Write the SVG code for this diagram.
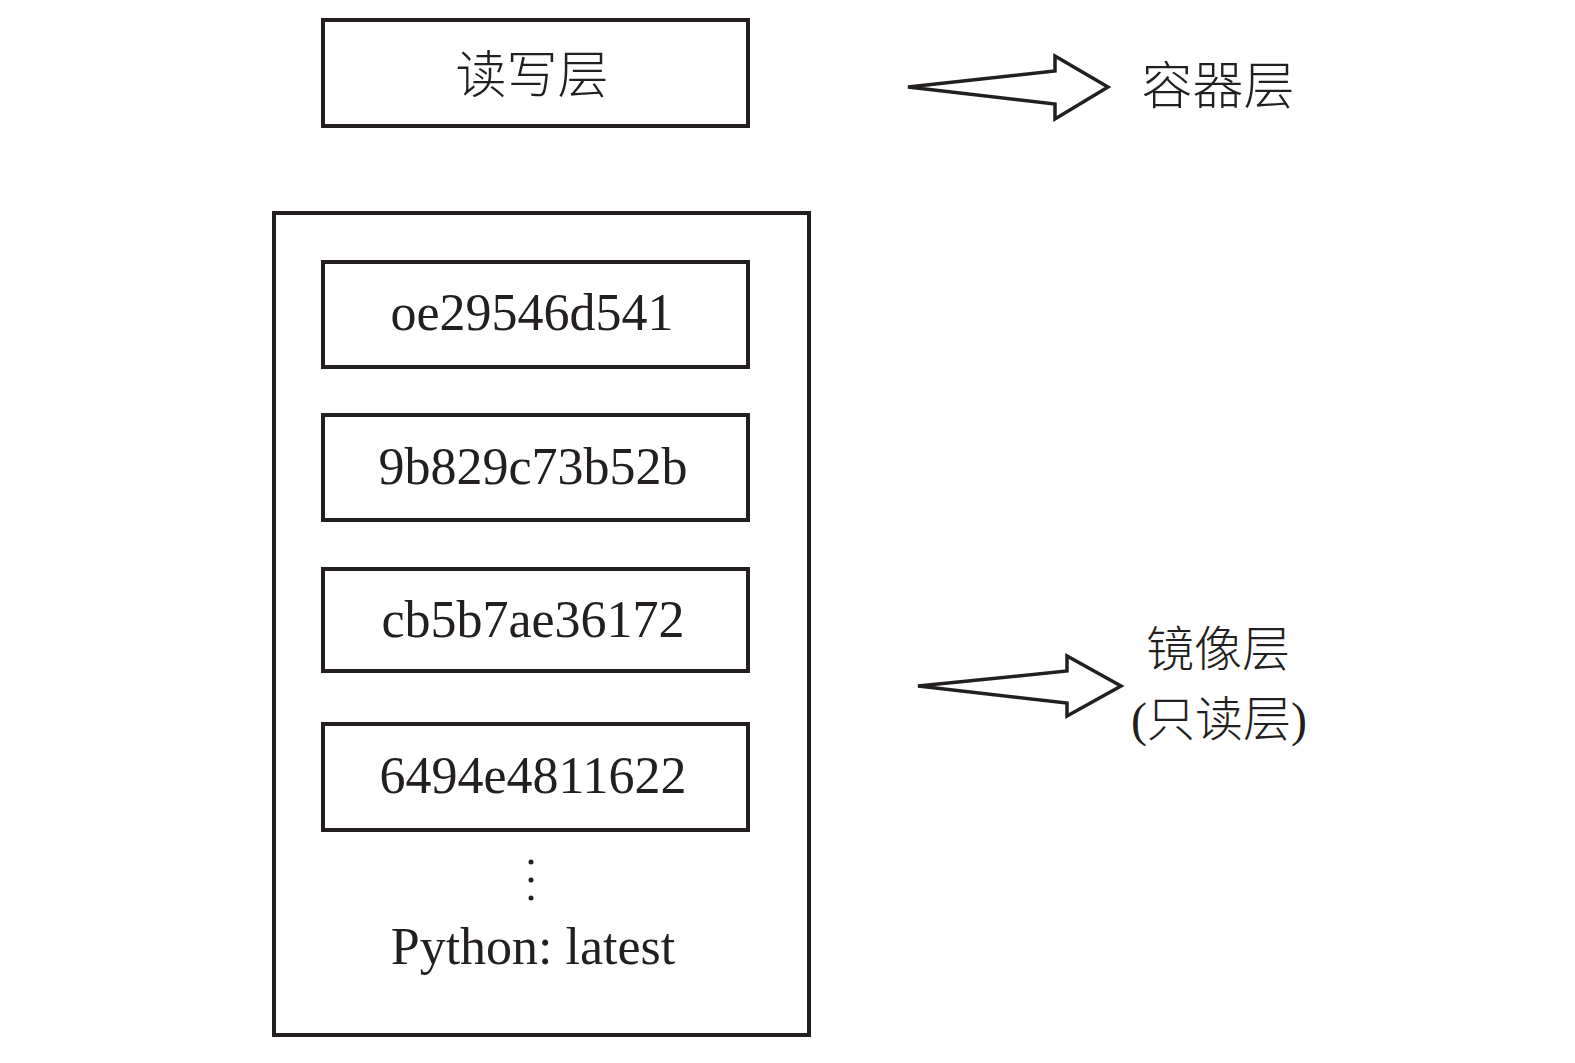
<svg xmlns="http://www.w3.org/2000/svg" width="1575" height="1063" viewBox="0 0 1575 1063">
<style>
.box{fill:#fff;stroke:#231f20;stroke-width:4}
.lbl{font-family:"Liberation Serif","Noto Sans CJK SC",serif;font-size:52px;fill:#231f20;text-anchor:middle}
.cjk{font-family:"Noto Sans CJK SC",sans-serif;font-size:51px;fill:#231f20;text-anchor:middle;font-weight:300}
.sm{font-size:48px}
.par{font-family:"Liberation Serif",serif;font-weight:400}
.arrow{fill:#fff;stroke:#231f20;stroke-width:3.5;stroke-linejoin:miter}
</style>
<rect width="1575" height="1063" fill="#fff"/>
<g id="rw-layer">
<rect class="box" x="323" y="20" width="425" height="106"/>
<text class="cjk" x="532" y="93">读写层</text>
</g>
<g id="image-stack">
<rect class="box" x="274" y="213" width="535" height="822"/>
</g>
<g id="layer1">
<rect class="box" x="323" y="262" width="425" height="105"/>
<text class="lbl" x="532" y="330">oe29546d541</text>
</g>
<g id="layer2">
<rect class="box" x="323" y="415" width="425" height="105"/>
<text class="lbl" x="533" y="484">9b829c73b52b</text>
</g>
<g id="layer3">
<rect class="box" x="323" y="569" width="425" height="102"/>
<text class="lbl" x="533" y="637">cb5b7ae36172</text>
</g>
<g id="layer4">
<rect class="box" x="323" y="724" width="425" height="106"/>
<text class="lbl" x="533" y="793">6494e4811622</text>
</g>
<g id="base">
<circle cx="531" cy="862" r="2.5" fill="#231f20"/>
<circle cx="531" cy="880" r="2.5" fill="#231f20"/>
<circle cx="531" cy="898" r="2.5" fill="#231f20"/>
<text class="lbl" x="533" y="964">Python: latest</text>
</g>
<g id="connectors">
<polygon class="arrow" points="908,87 1055,71 1055,56 1108,87 1055,119 1055,104"/>
<polygon class="arrow" points="918,686 1067,671 1067,656 1121,686 1067,716 1067,703"/>
</g>
<g id="container-label">
<text class="cjk" x="1218" y="104">容器层</text>
</g>
<g id="image-label">
<text class="cjk sm" x="1218" y="666">镜像层</text>
<text class="cjk sm" x="1219" y="736"><tspan class="par">(</tspan>只读层<tspan class="par">)</tspan></text>
</g>
</svg>
